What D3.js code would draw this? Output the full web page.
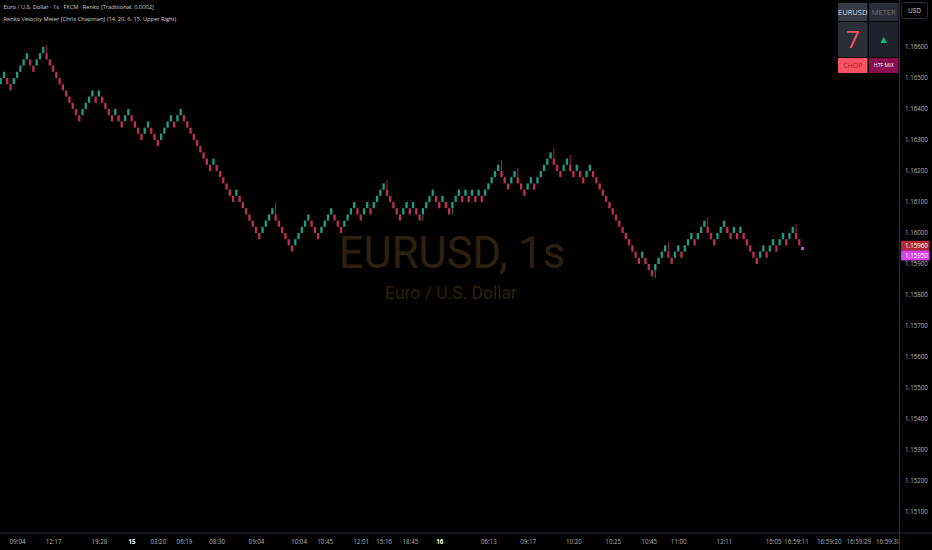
<!DOCTYPE html>
<html><head><meta charset="utf-8">
<script src="https://cdn.jsdelivr.net/npm/d3@7"></script>
<style>html,body{margin:0;padding:0;background:#000;overflow:hidden}</style>
</head><body><svg id="c" width="932" height="550"></svg>
<script>
// ---- data ----
const brickSize = 0.0002;
const firstBrickLow = 1.1648;
// consecutive brick runs: + = up (green) bricks, - = down (red) bricks
const runs = [2,-2,5,-2,3,-11,4,-1,1,-4,1,-2,2,-4,2,-3,4,-1,2,-9,1,-6,1,-7,4,-6,5,-3,4,-3,4,-2,2,-1,4,-5,
  2,-1,1,-2,4,-2,1,-2,3,-1,1,-1,1,-1,1,-1,5,-3,2,-3,2,-1,5,-3,2,-2,1,-2,2,
  -15,1,-3,4,-2,2,-1,3,-1,3,-3,3,-2,1,-1,1,-5,2,-1,2,-1,2,-1,2,-2];
// visible wicks: [brick index, extreme price]
const wickIndex = [14, 84, 118, 129, 138, 153, 158, 169, 174, 200, 204, 216, 243];
const wickPrice = [1.16605, 1.16097, 1.16171, 1.1604, 1.1606, 1.16235, 1.1621, 1.16274, 1.16252, 1.15855, 1.1597, 1.1605, 1.1603];
const priceTicks = [1.151,1.152,1.153,1.154,1.155,1.156,1.157,1.158,1.159,1.160,1.161,1.162,1.163,1.164,1.165,1.166];
const timeTickIndex = [5,16,30,40,48,56,66,78,91,99,110,117,125,134,149,161,175,187,198,207,221,236,243,253,262,271];
const timeTickLabels = ["09:04","12:17","19:28","15","03:20","06:19","08:30","09:04","10:04","10:45","12:01","15:16","18:45","16","06:13","09:17","10:20","10:25","10:45","11:00","12:11","15:05","16:59:11","16:59:20","16:59:29","16:59:38"];
const boldTimeLabels = ["15","16"];
const lastClose = 1.1596;
const currentPrice = 1.1595;
const titleLine1 = "Euro / U.S. Dollar · 1s · FXCM · Renko [Traditional, 0.0002]";
const titleLine2 = "Renko Velocity Meter [Chris Chapman] (14, 20, 6, 15, Upper Right)";
const watermark1 = "EURUSD, 1s";
const watermark2 = "Euro / U.S. Dollar";
const meterCells = ["EURUSD","METER","7","▲","CHOP","HTF MIX"];

// ---- build bricks ----
const bricks = [];
let low = firstBrickLow - brickSize * Math.sign(runs[0]);
runs.forEach(r => {
  const d = Math.sign(r);
  for (let j = 0; j < Math.abs(r); j++) {
    low += d * brickSize;
    bricks.push({i: bricks.length, low: low, high: low + brickSize, up: d > 0});
  }
});
const wicks = wickIndex.map((idx, k) => ({b: bricks[idx], p: wickPrice[k]}));

const W = 932, H = 550;
const plotRight = 899.5, plotBottom = 533;
const svg = d3.select("#c");
svg.append("rect").attr("width", W).attr("height", H).attr("fill", "#000");

const x = d3.scaleLinear().domain([0, bricks.length - 1]).range([0.7, 799.3]);
const y = d3.scaleLinear().domain([1.151, 1.166]).range([512, 47]);

const defs = svg.append("defs");
defs.append("clipPath").attr("id", "plotclip")
  .append("rect").attr("x", 0).attr("y", 0).attr("width", plotRight).attr("height", plotBottom);
defs.append("clipPath").attr("id", "plotclip2")
  .append("rect").attr("x", 0).attr("y", plotBottom).attr("width", plotRight - 1).attr("height", H - plotBottom);

// watermark
const wmFont = "Roboto, 'Liberation Sans', sans-serif";
svg.append("text").attr("x", 452).attr("y", 268).attr("text-anchor", "middle")
  .attr("font-family", wmFont).attr("font-size", 43.5)
  .attr("fill", "#2f200d").text(watermark1);
svg.append("text").attr("x", 451).attr("y", 299).attr("text-anchor", "middle")
  .attr("font-family", wmFont).attr("font-size", 17.5)
  .attr("fill", "#2f200d").text(watermark2);

// bricks + wicks
const g = svg.append("g").attr("clip-path", "url(#plotclip)");
const upCol = "#1f9e84", dnCol = "#c0304f";
g.selectAll("line.wick").data(wicks).join("line").attr("class", "wick")
  .attr("x1", d => x(d.b.i)).attr("x2", d => x(d.b.i))
  .attr("y1", d => d.p > d.b.high ? y(d.b.high) : y(d.b.low))
  .attr("y2", d => y(d.p))
  .attr("stroke", d => d.b.up ? upCol : dnCol).attr("stroke-width", 0.8);
const bw = 2.3;
g.selectAll("rect.brick").data(bricks).join("rect").attr("class", "brick")
  .attr("x", d => x(d.i) - bw / 2)
  .attr("y", d => y(d.high))
  .attr("width", bw)
  .attr("height", d => y(d.low) - y(d.high))
  .attr("fill", d => d.up ? upCol : dnCol);

// current price pending marker
g.append("rect").attr("x", x(bricks.length) - 1.5).attr("y", y(currentPrice) - 1.5)
  .attr("width", 3).attr("height", 3).attr("fill", "#e040fb");

// axes lines
svg.append("line").attr("x1", plotRight).attr("x2", plotRight).attr("y1", 0).attr("y2", H)
  .attr("stroke", "#2a2e39").attr("stroke-width", 1);
svg.append("line").attr("x1", 0).attr("x2", W).attr("y1", plotBottom).attr("y2", plotBottom)
  .attr("stroke", "#2a2e39").attr("stroke-width", 1);

const axFont = "'Open Sans', 'DejaVu Sans', sans-serif";
// price axis
const yAxis = d3.axisRight(y).tickValues(priceTicks).tickFormat(d3.format(".5f")).tickSize(0).tickPadding(0);
const ya = svg.append("g").attr("transform", `translate(${905},0)`).call(yAxis);
ya.select(".domain").remove();
ya.selectAll("text").attr("fill", "#b2b5be").attr("font-size", 6.2).attr("font-family", axFont);

// last price labels
const lbl = [
  {p: lastClose, fill: "#b2283a", yc: 245.7},
  {p: currentPrice, fill: "#d544e8", yc: 255.5}
];
lbl.forEach(l => {
  svg.append("rect").attr("x", 901).attr("y", l.yc - 5).attr("width", 28.5).attr("height", 10)
    .attr("fill", l.fill).attr("rx", 1);
  svg.append("text").attr("x", 905).attr("y", l.yc).attr("dy", "0.35em")
    .attr("font-size", 6.2).attr("font-family", axFont)
    .attr("fill", "#ffffff").text(d3.format(".5f")(l.p));
});

// USD box
svg.append("rect").attr("x", 901.5).attr("y", 2.5).attr("width", 26).attr("height", 16)
  .attr("fill", "#000").attr("stroke", "#2a2e39").attr("rx", 2);
svg.append("text").attr("x", 914.5).attr("y", 10.5).attr("dy", "0.35em").attr("text-anchor", "middle")
  .attr("font-size", 6.5).attr("font-family", axFont).attr("fill", "#d1d4dc").text("USD");

// time axis
const ta = svg.append("g").attr("clip-path", "url(#plotclip2)");
const xAxis = d3.axisBottom(x).tickValues(timeTickIndex).tickFormat((d, i) => timeTickLabels[i]).tickSize(0).tickPadding(0);
const xa = ta.append("g").attr("transform", `translate(0,${539.5})`).call(xAxis);
xa.select(".domain").remove();
xa.selectAll("text")
  .attr("font-size", 6.2).attr("font-family", axFont)
  .attr("font-weight", (d, i) => boldTimeLabels.includes(timeTickLabels[i]) ? "bold" : "normal")
  .attr("fill", (d, i) => boldTimeLabels.includes(timeTickLabels[i]) ? "#ffffff" : "#b2b5be");

// title lines
svg.append("text").attr("x", 3.5).attr("y", 7.5).attr("dy", "0.35em").attr("font-size", 5.7)
  .attr("font-family", axFont).attr("fill", "#d1d4dc").text(titleLine1);
svg.append("text").attr("x", 3.5).attr("y", 19.2).attr("dy", "0.35em").attr("font-size", 5.7)
  .attr("font-family", axFont).attr("fill", "#d1d4dc").text(titleLine2);

// meter table
const mt = svg.append("g");
const cw = 30.5, colX = [838, 869];
const rows = [{y: 3, h: 19}, {y: 22, h: 36}, {y: 58, h: 16}];
const cellStyle = [
  {bg: "#363a45", fg: "#d1d4dc", fs: 7.5},
  {bg: "#2a2e39", fg: "#6a6d78", fs: 7.5},
  {bg: "#2a2e39", fg: "#f7525f", fs: 24},
  {bg: "#1e222d", fg: "#00c176", fs: 8},
  {bg: "#f7525f", fg: "#b22833", fs: 7},
  {bg: "#880e4f", fg: "#ffffff", fs: 5.2}
];
meterCells.forEach((t, k) => {
  const r = rows[Math.floor(k / 2)], c = k % 2, s = cellStyle[k];
  mt.append("rect").attr("x", colX[c]).attr("y", r.y).attr("width", cw - 1).attr("height", r.h - 1).attr("fill", s.bg);
  mt.append("text").attr("x", colX[c] + (cw - 1) / 2).attr("y", r.y + (r.h - 1) / 2).attr("dy", "0.36em")
    .attr("text-anchor", "middle").attr("font-size", s.fs)
    .attr("font-family", axFont).attr("fill", s.fg).text(t);
});
</script></body></html>
